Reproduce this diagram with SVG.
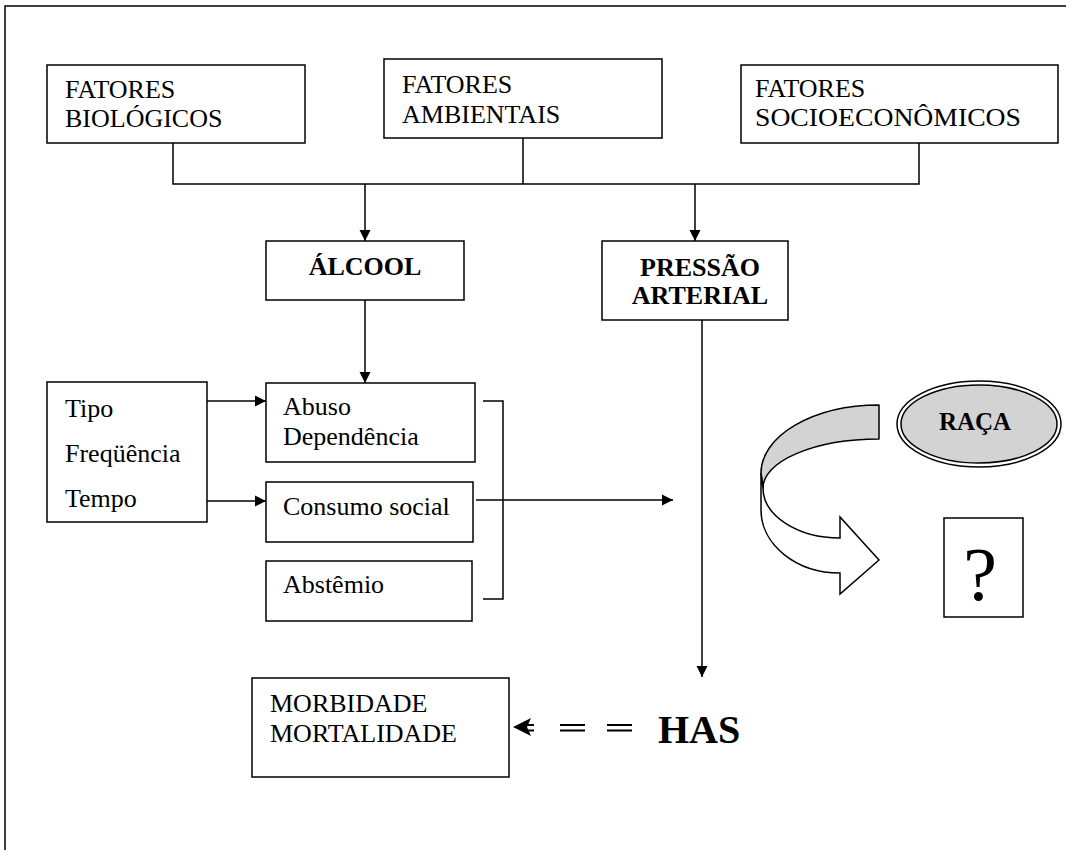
<svg xmlns="http://www.w3.org/2000/svg" width="1066" height="850" viewBox="0 0 1066 850">
<style>
.box{fill:#fff;stroke:#000;stroke-width:1.5}
.ln{fill:none;stroke:#000;stroke-width:1.5}
.t{font-family:"Liberation Serif","Times New Roman",serif;font-size:26px;fill:#000}
.b{font-family:"Liberation Serif","Times New Roman",serif;font-weight:bold;fill:#000}
</style>
<defs>
<marker id="ah" markerUnits="userSpaceOnUse" markerWidth="12" markerHeight="12" viewBox="0 0 12 12" refX="11" refY="6" orient="auto">
<path d="M0,0.5 L11,6 L0,11.5 Z" fill="#000"/>
</marker>
</defs>
<rect width="1066" height="850" fill="#fff"/>
<g id="frame"><path class="ln" d="M5,850 V6 H1066" stroke="#222"/></g>

<g id="connectors">
<path class="ln" d="M173,143 V184 H919 V143 M523,138 V184"/>
<path class="ln" d="M365,184 V241" marker-end="url(#ah)"/>
<path class="ln" d="M695,184 V241" marker-end="url(#ah)"/>
<path class="ln" d="M365,300 V383" marker-end="url(#ah)"/>
<path class="ln" d="M207,401 H266" marker-end="url(#ah)"/>
<path class="ln" d="M207,501 H266" marker-end="url(#ah)"/>
<path class="ln" d="M483,401 H503 V599 H483"/>
<path class="ln" d="M476,500 H673" marker-end="url(#ah)"/>
<path class="ln" d="M702,320 V677" marker-end="url(#ah)"/>
<g id="dbl-arrow">
<path d="M513,727 L531,718 L527,727 L531,736 Z" fill="#000"/>
<path d="M527,725 H534 M527,730.5 H534 M560,725 H585 M560,730.5 H585 M607,725 H632 M607,730.5 H632" stroke="#000" stroke-width="2" fill="none"/>
</g>
</g>

<g id="fatores-biologicos">
<rect class="box" x="47" y="65" width="258" height="78"/>
<text class="t" x="65" y="98">FATORES</text>
<text class="t" x="65" y="127">BIOLÓGICOS</text>
</g>
<g id="fatores-ambientais">
<rect class="box" x="384" y="59" width="278" height="79"/>
<text class="t" x="402" y="93">FATORES</text>
<text class="t" x="402" y="123">AMBIENTAIS</text>
</g>
<g id="fatores-socioeconomicos">
<rect class="box" x="741" y="65" width="317" height="78"/>
<text class="t" x="755" y="97" font-size="27">FATORES</text>
<text class="t" x="755" y="126" font-size="27" textLength="266" lengthAdjust="spacingAndGlyphs">SOCIOECONÔMICOS</text>
</g>
<g id="alcool">
<rect class="box" x="266" y="241" width="198" height="59"/>
<text class="b" x="365" y="275" font-size="26" text-anchor="middle">ÁLCOOL</text>
</g>
<g id="pressao-arterial">
<rect class="box" x="602" y="241" width="186" height="79"/>
<text class="b" x="700" y="276" font-size="26" text-anchor="middle">PRESSÃO</text>
<text class="b" x="700" y="304" font-size="26" text-anchor="middle">ARTERIAL</text>
</g>
<g id="tipo">
<rect class="box" x="47" y="382" width="160" height="140"/>
<text class="t" x="65" y="417">Tipo</text>
<text class="t" x="65" y="462">Freqüência</text>
<text class="t" x="65" y="507">Tempo</text>
</g>
<g id="abuso">
<rect class="box" x="266" y="383" width="209" height="79"/>
<text class="t" x="283" y="415">Abuso</text>
<text class="t" x="283" y="445">Dependência</text>
</g>
<g id="consumo">
<rect class="box" x="266" y="482" width="207" height="60"/>
<text class="t" x="283" y="515">Consumo social</text>
</g>
<g id="abstemio">
<rect class="box" x="266" y="561" width="206" height="60"/>
<text class="t" x="283" y="593">Abstêmio</text>
</g>
<g id="raca">
<ellipse cx="979" cy="424" rx="82" ry="43" fill="#fff" stroke="#000" stroke-width="1.5"/>
<ellipse cx="979" cy="424" rx="78" ry="39" fill="#d3d3d3" stroke="#000" stroke-width="1.5"/>
<text class="b" x="975" y="430" font-size="25" text-anchor="middle">RAÇA</text>
</g>
<g id="curved-arrow">
<path d="M879,405 A118,68 0 0 0 761,473 L763,488 A116,49 0 0 1 879,439 Z" fill="#d3d3d3" stroke="#000" stroke-width="1.5" stroke-linejoin="round"/>
<path d="M761,473 L761,510 A79,63 0 0 0 840,573 L840,594 L879,560 L840,517 L840,538 A77,50 0 0 1 763,488 Z" fill="#fff" stroke="#000" stroke-width="1.5" stroke-linejoin="miter"/>
</g>
<g id="question">
<rect class="box" x="944" y="518" width="79" height="99"/>
<text x="980" y="600" font-family="Liberation Serif,serif" font-size="76" text-anchor="middle">?</text>
</g>
<g id="morbidade">
<rect class="box" x="252" y="678" width="257" height="99"/>
<text class="t" x="270" y="712">MORBIDADE</text>
<text class="t" x="270" y="742">MORTALIDADE</text>
</g>
<g id="has">
<text class="b" x="658" y="743" font-size="40">HAS</text>
</g>
</svg>
